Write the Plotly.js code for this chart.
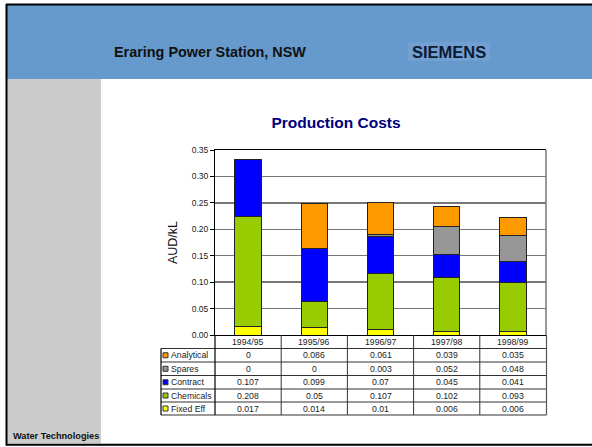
<!DOCTYPE html>
<html>
<head>
<meta charset="utf-8">
<script src="https://cdn.plot.ly/plotly-3.0.1.min.js"></script>
<style>html,body{margin:0;padding:0;background:#fff;}#chart{width:592px;height:447px;}</style>
</head>
<body>
<div id="chart"></div>
<script>
// ---- data ----
const categories = ["1994/95", "1995/96", "1996/97", "1997/98", "1998/99"];
const fixedEff   = [0.017, 0.014, 0.01, 0.006, 0.006];
const chemicals  = [0.208, 0.05, 0.107, 0.102, 0.093];
const contract   = [0.107, 0.099, 0.07, 0.045, 0.041];
const spares     = [0, 0, 0.003, 0.052, 0.048];
const analytical = [0, 0.086, 0.061, 0.039, 0.035];
const seriesNames = ["Fixed Eff", "Chemicals", "Contract", "Spares", "Analytical"];
const seriesColors = ["#FFFF00", "#99CC00", "#0000FF", "#969696", "#FF9900"];
const yTicks = [0, 0.05, 0.10, 0.15, 0.20, 0.25, 0.30, 0.35];

const W = 592, H = 447;
const px = x => x / W;
const py = y => 1 - y / H;

const seriesValues = [fixedEff, chemicals, contract, spares, analytical];

const traces = seriesValues.map((vals, i) => ({
  type: "bar",
  name: seriesNames[i],
  x: categories,
  y: vals,
  width: 0.4,
  marker: {color: seriesColors[i], line: {color: "#222", width: 1}},
  hoverinfo: "x+y+name"
}));

const shapes = [];
const annotations = [];

// slide frame
shapes.push({type: "rect", xref: "paper", yref: "paper", layer: "below",
  x0: px(7), x1: px(592), y0: py(79), y1: py(5), fillcolor: "#6699CC", line: {width: 0}});
shapes.push({type: "rect", xref: "paper", yref: "paper", layer: "below",
  x0: px(7), x1: px(101), y0: py(443.5), y1: py(79), fillcolor: "#CCCCCC", line: {width: 0}});
shapes.push({type: "line", xref: "paper", yref: "paper", x0: px(6), x1: px(592), y0: py(4.5), y1: py(4.5), line: {color: "#000", width: 2}});
shapes.push({type: "line", xref: "paper", yref: "paper", x0: px(6.5), x1: px(6.5), y0: py(4), y1: py(445.5), line: {color: "#000", width: 2}});
shapes.push({type: "line", xref: "paper", yref: "paper", x0: px(6), x1: px(592), y0: py(444.8), y1: py(444.8), line: {color: "#000", width: 2}});
// SIEMENS box
shapes.push({type: "rect", xref: "paper", yref: "paper", layer: "below",
  x0: px(408), x1: px(490), y0: py(61), y1: py(42), fillcolor: "#72A0D2", line: {width: 0}});

// plot area right border
shapes.push({type: "line", xref: "paper", yref: "paper", x0: px(546), x1: px(546), y0: py(150), y1: py(335), line: {color: "#777", width: 1.5}});

// data table grid
const rowBounds = [335, 348.5, 362, 375.5, 389, 402, 415];
const tblLeft = 161, colSplit = 215, tblRight = 546.5;
for (let r = 1; r < rowBounds.length; r++) {
  shapes.push({type: "line", xref: "paper", yref: "paper", x0: px(tblLeft), x1: px(tblRight),
    y0: py(rowBounds[r]), y1: py(rowBounds[r]), line: {color: "#333", width: 1.2}});
}
shapes.push({type: "line", xref: "paper", yref: "paper", x0: px(tblLeft), x1: px(tblLeft),
  y0: py(348.5), y1: py(415), line: {color: "#000", width: 1.2}});
shapes.push({type: "line", xref: "paper", yref: "paper", x0: px(colSplit), x1: px(colSplit),
  y0: py(335), y1: py(415), line: {color: "#000", width: 1.2}});
shapes.push({type: "line", xref: "paper", yref: "paper", x0: px(tblRight), x1: px(tblRight),
  y0: py(335), y1: py(415), line: {color: "#555", width: 1.2}});
for (let c = 1; c < categories.length; c++) {
  shapes.push({type: "line", xref: "x", yref: "paper", x0: c - 0.5, x1: c - 0.5,
    y0: py(335), y1: py(415), line: {color: "#333", width: 1}});
}

const cellFont = {family: "Arial", size: 8.7, color: "#222"};

// header row: category labels
categories.forEach((cat, i) => {
  annotations.push({xref: "x", yref: "paper", x: cat, y: py((rowBounds[0] + rowBounds[1]) / 2),
    text: cat, showarrow: false, font: cellFont, xanchor: "center", yanchor: "middle"});
});

// table rows (top to bottom: Analytical ... Fixed Eff)
const tableOrder = [4, 3, 2, 1, 0];
tableOrder.forEach((si, r) => {
  const yc = (rowBounds[r + 1] + rowBounds[r + 2]) / 2;
  shapes.push({type: "rect", xref: "paper", yref: "paper",
    x0: px(163), x1: px(168), y0: py(yc + 2.5), y1: py(yc - 2.5),
    fillcolor: seriesColors[si], line: {color: "#333", width: 1}});
  annotations.push({xref: "paper", yref: "paper", x: px(169), y: py(yc),
    text: seriesNames[si], showarrow: false, font: cellFont, xanchor: "left", yanchor: "middle"});
  seriesValues[si].forEach((v, ci) => {
    annotations.push({xref: "x", yref: "paper", x: categories[ci], y: py(yc),
      text: String(v), showarrow: false, font: cellFont, xanchor: "center", yanchor: "middle"});
  });
});

// slide texts
annotations.push({xref: "paper", yref: "paper", x: px(112), y: py(52), text: "<b>Eraring Power Station, NSW</b>",
  showarrow: false, xanchor: "left", yanchor: "middle", font: {family: "Arial", size: 14.4, color: "#111"}});
annotations.push({xref: "paper", yref: "paper", x: px(449), y: py(52), text: "<b>SIEMENS</b>",
  showarrow: false, xanchor: "center", yanchor: "middle", font: {family: "Arial", size: 16.5, color: "#0E1B33"}});
annotations.push({xref: "paper", yref: "paper", x: px(11), y: py(436), text: "<b>Water Technologies</b>",
  showarrow: false, xanchor: "left", yanchor: "middle", font: {family: "Arial", size: 9.2, color: "#111"}});

const layout = {
  width: W, height: H,
  margin: {l: 0, r: 0, t: 0, b: 0},
  paper_bgcolor: "#fff",
  plot_bgcolor: "rgba(0,0,0,0)",
  showlegend: false,
  barmode: "stack",
  title: {text: "<b>Production Costs</b>", x: px(336), y: py(123), xanchor: "center", yanchor: "middle",
    xref: "paper", yref: "paper", font: {family: "Arial", size: 15.5, color: "#000080"}},
  xaxis: {
    type: "category", domain: [px(215), px(546)], range: [-0.5, 4.5],
    showticklabels: false, ticks: "", showgrid: false, zeroline: false,
    showline: true, linecolor: "#000", linewidth: 1, mirror: true, fixedrange: true
  },
  yaxis: {
    domain: [py(335), py(150)], range: [0, 0.35],
    tickvals: yTicks, tickformat: ".2f", ticks: "outside", ticklen: 4, tickcolor: "#000",
    tickfont: {family: "Arial", size: 8.5, color: "#222"},
    showgrid: true, gridcolor: "#777", gridwidth: 1.3, zeroline: false,
    showline: true, linecolor: "#000", linewidth: 1, fixedrange: true,
    title: {text: "AUD/kL", font: {family: "Arial", size: 12.5, color: "#111"}, standoff: 11}
  },
  shapes: shapes,
  annotations: annotations
};

Plotly.newPlot("chart", traces, layout, {displayModeBar: false, staticPlot: true});
</script>
</body>
</html>
